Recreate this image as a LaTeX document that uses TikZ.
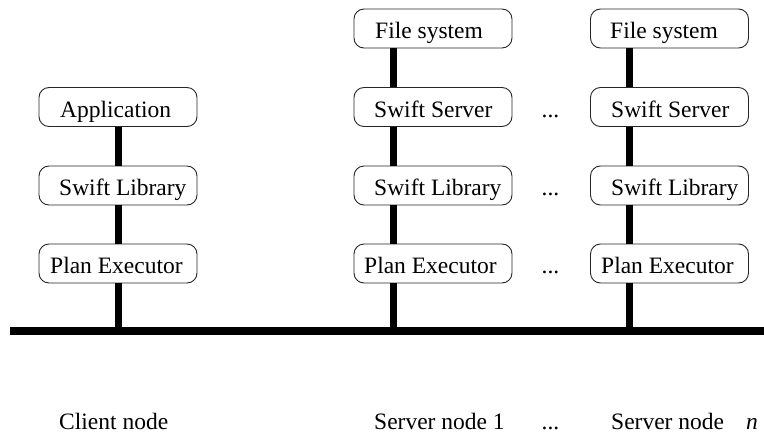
\documentclass[tikz,border=0pt]{standalone}
\usepackage{fontspec}
\setmainfont{Liberation Serif}
\begin{document}
\begin{tikzpicture}[x=1pt,y=-1pt,
  box/.style={draw=black!85, line width=0.9pt, rounded corners=10pt, fill=white,
    minimum width=158pt, minimum height=39pt, inner sep=0pt},
  lbl/.style={font=\fontsize{23.5}{28}\selectfont, inner sep=0pt, anchor=base west},
  dots/.style={font=\fontsize{23.5}{28}\selectfont, inner sep=0pt, anchor=base},
  conn/.style={line width=7pt, line cap=butt},
  bus/.style={line width=8pt, line cap=butt}]
\useasboundingbox (0,0) rectangle (764,434);
% coordinates for the bus and the server line positions
\coordinate (busL) at (10,331);
\coordinate (busR) at (764,331);
\coordinate (lc) at (118.5,331);
\coordinate (l1) at (393,331);
\coordinate (ln) at (629,331);
% client column
\node[box] (ca) at (118,107) {};
\node[box] (cl) at (118,185.5) {};
\node[box] (cp) at (118,263.5) {};
% server 1 column
\node[box] (sf) at (433,28.5) {};
\node[box] (ss) at (433,107) {};
\node[box] (sl) at (433,185.5) {};
\node[box] (sp) at (433,263.5) {};
% server n column
\node[box] (nf) at (669.5,28.5) {};
\node[box] (ns) at (669.5,107) {};
\node[box] (nl) at (669.5,185.5) {};
\node[box] (np) at (669.5,263.5) {};
% box texts
\node[lbl] (tca) at (60,117) {Application};
\node[lbl] (tcl) at (59,195.5) {Swift Library};
\node[lbl] (tcp) at (50,273.5) {Plan Executor};
\node[lbl] (tsf) at (375,38.5) {File system};
\node[lbl] (tss) at (374,117) {Swift Server};
\node[lbl] (tsl) at (374,195.5) {Swift Library};
\node[lbl] (tsp) at (364,273.5) {Plan Executor};
\node[lbl] (tnf) at (610,38.5) {File system};
\node[lbl] (tns) at (611,117) {Swift Server};
\node[lbl] (tnl) at (611,195.5) {Swift Library};
\node[lbl] (tnp) at (601,273.5) {Plan Executor};
% dots between columns
\node[dots] (d1) at (550.5,117) {...};
\node[dots] (d2) at (550.5,195.5) {...};
\node[dots] (d3) at (550.5,273.5) {...};
% bus
\draw[bus] (busL) -- (busR);
% client connectors
\draw[conn] (ca.south -| lc) -- (cl.north -| lc);
\draw[conn] (cl.south -| lc) -- (cp.north -| lc);
\draw[conn] (cp.south -| lc) -- (lc);
% server 1 connectors
\draw[conn] (sf.south -| l1) -- (ss.north -| l1);
\draw[conn] (ss.south -| l1) -- (sl.north -| l1);
\draw[conn] (sl.south -| l1) -- (sp.north -| l1);
\draw[conn] (sp.south -| l1) -- (l1);
% server n connectors
\draw[conn] (nf.south -| ln) -- (ns.north -| ln);
\draw[conn] (ns.south -| ln) -- (nl.north -| ln);
\draw[conn] (nl.south -| ln) -- (np.north -| ln);
\draw[conn] (np.south -| ln) -- (ln);
% bottom labels
\node[lbl] (bc) at (59,429) {Client node};
\node[lbl] (b1) at (374,429) {Server node 1};
\node[dots] (bd) at (550.5,429) {...};
\node[lbl] (bn) at (611,429) {Server node};
\node[lbl] (bnn) at (746,429) {\textit{n}};
\end{tikzpicture}
\end{document}
